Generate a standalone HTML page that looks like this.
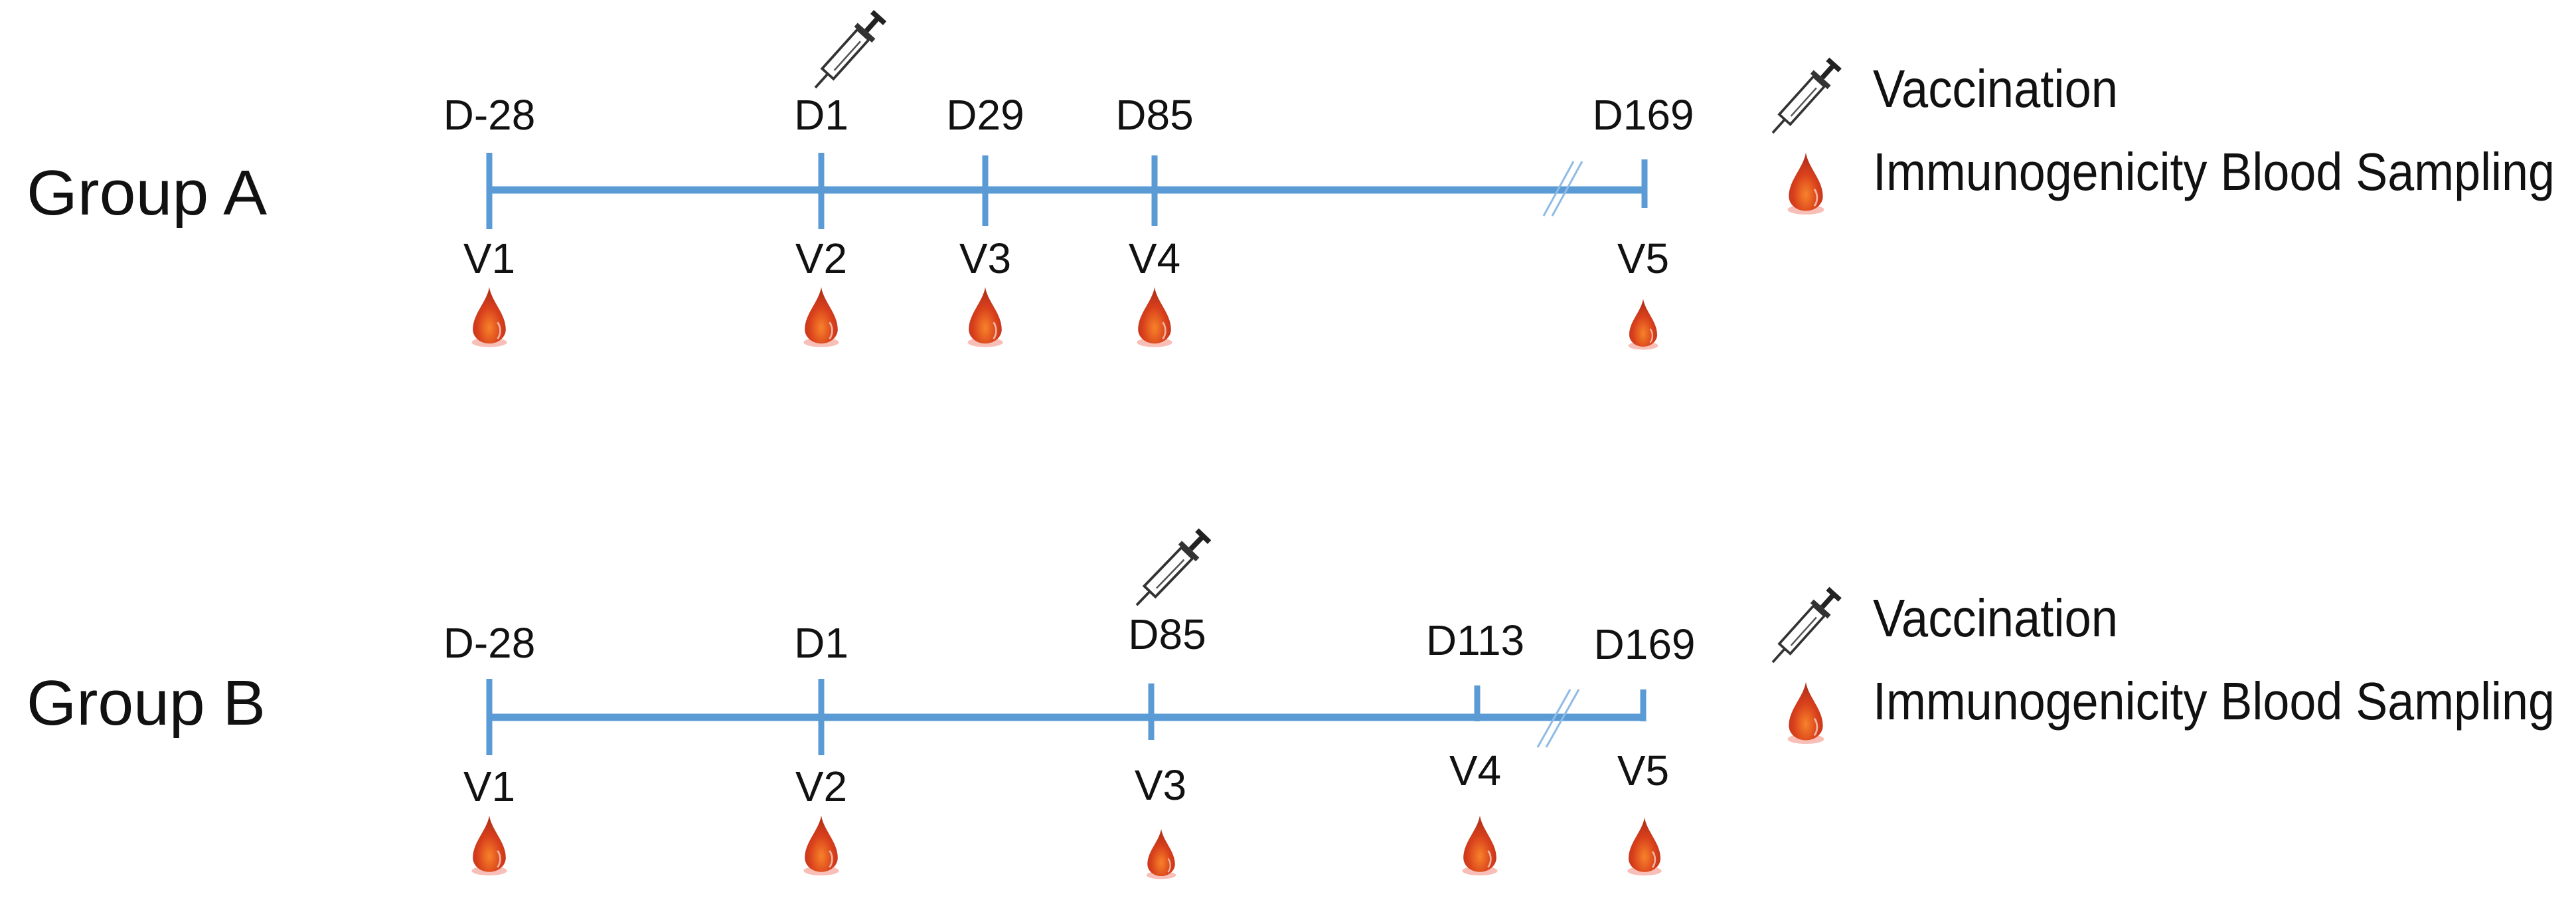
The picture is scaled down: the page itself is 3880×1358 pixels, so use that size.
<!DOCTYPE html>
<html><head><meta charset="utf-8"><style>html,body{margin:0;padding:0;background:#fff}svg{display:block}</style></head>
<body>
<svg width="3880" height="1358" viewBox="0 0 3880 1358" xmlns="http://www.w3.org/2000/svg" font-family="Liberation Sans, sans-serif">
<defs>
<radialGradient id="dg" cx="0.5" cy="0.72" r="0.6">
<stop offset="0" stop-color="#f7832a"/><stop offset="0.6" stop-color="#d9401c"/><stop offset="1" stop-color="#b8321a"/>
</radialGradient>
<symbol id="drop" viewBox="-35 0 70 100" overflow="visible">
<ellipse cx="0" cy="94" rx="30" ry="8" fill="#f08070" opacity="0.5"/>
<path d="M0 0 C4 25 28 45 28 72 A28 24 0 0 1 -28 72 C-28 45 -4 25 0 0 Z" fill="url(#dg)"/>
<path d="M14 60 C20 68 20 80 14 88" stroke="#fff" stroke-width="3" fill="none" opacity="0.6"/>
</symbol>
<g id="syr">
<line x1="0" y1="0" x2="0" y2="22" stroke="#333" stroke-width="3"/>
<rect x="-9" y="22" width="18" height="62" fill="#fff" stroke="#333" stroke-width="3"/>
<line x1="-3" y1="30" x2="-3" y2="76" stroke="#555" stroke-width="2"/>
<rect x="-14" y="84" width="28" height="6" fill="#333"/>
<rect x="-3" y="90" width="6" height="20" fill="#222"/>
<rect x="-10" y="108" width="20" height="6" fill="#222"/>
</g>
</defs>

<g font-size="64" fill="#111" text-anchor="middle">
<!-- Group A -->
<text x="40" y="323" font-size="96" text-anchor="start" textLength="362" lengthAdjust="spacingAndGlyphs">Group A</text>
<line x1="737" y1="286" x2="2477" y2="286" stroke="#5b9bd5" stroke-width="11"/>
<g stroke="#5b9bd5" stroke-width="9">
<line x1="737" y1="230" x2="737" y2="345"/><line x1="1237" y1="230" x2="1237" y2="345"/>
<line x1="1484" y1="234" x2="1484" y2="340"/><line x1="1739" y1="234" x2="1739" y2="340"/>
<line x1="2477" y1="240" x2="2477" y2="313"/>
</g>
<g stroke="#8fbbe6" stroke-width="3"><line x1="2325" y1="325" x2="2370" y2="243"/><line x1="2338" y1="325" x2="2383" y2="243"/></g>
<text x="737" y="195">D-28</text><text x="1237" y="195">D1</text><text x="1484" y="195">D29</text><text x="1739" y="195">D85</text><text x="2475" y="195">D169</text>
<text x="737" y="411">V1</text><text x="1237" y="411">V2</text><text x="1484" y="411">V3</text><text x="1739" y="411">V4</text><text x="2475" y="411">V5</text>
<use href="#drop" x="706" y="428" width="62" height="97"/>
<use href="#drop" x="1206" y="428" width="62" height="97"/>
<use href="#drop" x="1453" y="428" width="62" height="97"/>
<use href="#drop" x="1708" y="428" width="62" height="97"/>
<use href="#drop" x="2447" y="450" width="56" height="75"/>
<use href="#syr" transform="translate(1228,132) rotate(-138) scale(1.28)"/>
<!-- legend A -->
<use href="#syr" transform="translate(2670,200) rotate(-138) scale(1.24)"/>
<text x="2821" y="161" font-size="80" text-anchor="start" textLength="369" lengthAdjust="spacingAndGlyphs">Vaccination</text>
<use href="#drop" x="2688" y="224" width="64" height="103"/>
<text x="2821" y="286" font-size="80" text-anchor="start" textLength="1027" lengthAdjust="spacingAndGlyphs">Immunogenicity Blood Sampling</text>

<!-- Group B -->
<text x="40" y="1091" font-size="96" text-anchor="start" textLength="360" lengthAdjust="spacingAndGlyphs">Group B</text>
<line x1="737" y1="1080" x2="2477" y2="1080" stroke="#5b9bd5" stroke-width="11"/>
<g stroke="#5b9bd5" stroke-width="9">
<line x1="737" y1="1022" x2="737" y2="1137"/><line x1="1237" y1="1022" x2="1237" y2="1137"/>
<line x1="1734" y1="1029" x2="1734" y2="1114"/><line x1="2225" y1="1032" x2="2225" y2="1086"/>
<line x1="2475" y1="1038" x2="2475" y2="1086"/>
</g>
<g stroke="#8fbbe6" stroke-width="3"><line x1="2316" y1="1125" x2="2365" y2="1038"/><line x1="2329" y1="1125" x2="2378" y2="1038"/></g>
<text x="737" y="990">D-28</text><text x="1237" y="990">D1</text><text x="1758" y="977">D85</text><text x="2222" y="986">D113</text><text x="2477" y="992">D169</text>
<text x="737" y="1206">V1</text><text x="1237" y="1206">V2</text><text x="1748" y="1204">V3</text><text x="2222" y="1182">V4</text><text x="2475" y="1182">V5</text>
<use href="#drop" x="706" y="1222" width="62" height="100"/>
<use href="#drop" x="1206" y="1222" width="62" height="100"/>
<use href="#drop" x="1720" y="1248" width="58" height="74"/>
<use href="#drop" x="2198" y="1222" width="62" height="100"/>
<use href="#drop" x="2447" y="1225" width="60" height="97"/>
<use href="#syr" transform="translate(1712,911) rotate(-136) scale(1.3)"/>
<!-- legend B -->
<use href="#syr" transform="translate(2670,997) rotate(-138) scale(1.24)"/>
<text x="2821" y="958" font-size="80" text-anchor="start" textLength="369" lengthAdjust="spacingAndGlyphs">Vaccination</text>
<use href="#drop" x="2688" y="1021" width="64" height="103"/>
<text x="2821" y="1083" font-size="80" text-anchor="start" textLength="1027" lengthAdjust="spacingAndGlyphs">Immunogenicity Blood Sampling</text>
</g>
</svg>
</body></html>
